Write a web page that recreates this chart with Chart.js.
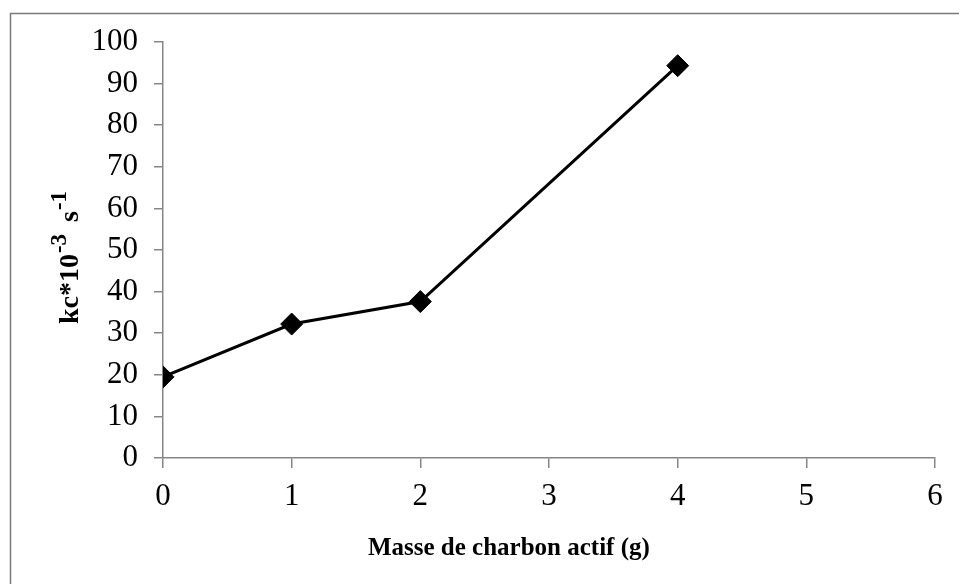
<!DOCTYPE html>
<html><head><meta charset="utf-8">
<script src="https://cdn.jsdelivr.net/npm/chart.js@4"></script>
<style>html,body{margin:0;padding:0;background:#fff}#wrap{width:959px;height:584px;position:relative}</style>
</head><body><div id="wrap"><canvas id="c" width="959" height="584"></canvas></div>
<script>
const masses = [0, 1, 2, 4];
const kcValues = [19.5, 32.2, 37.6, 94.3];
const xRange = [0, 6];
const yRange = [0, 100];
const xStep = 1;
const yStep = 10;
const xTitle = 'Masse de charbon actif (g)';
const yTitleParts = [['kc*10', false], ['-3', true], [' s', false], ['-1', true]];

const AXIS = '#868686';
const FONT = 'Liberation Serif, Times New Roman, serif';

const decor = {
  id: 'decor',
  afterDraw(chart) {
    const ctx = chart.ctx;
    const a = chart.chartArea;
    ctx.save();
    // outer frame
    ctx.strokeStyle = '#7a7a7a';
    ctx.lineWidth = 1.5;
    ctx.beginPath();
    ctx.moveTo(10.5, 584);
    ctx.lineTo(10.5, 13.5);
    ctx.lineTo(959, 13.5);
    ctx.stroke();
    // x title
    ctx.fillStyle = '#000';
    ctx.font = 'bold 25px ' + FONT;
    ctx.textAlign = 'center';
    ctx.textBaseline = 'alphabetic';
    ctx.fillText(xTitle, a.left + (a.right - a.left) * 0.448, 555);
    // y title rotated with superscripts
    const mainF = 'bold 28px ' + FONT;
    const supF = 'bold 23px ' + FONT;
    const gap = 6;
    let total = 0;
    const widths = yTitleParts.map(([t, sup]) => {
      ctx.font = sup ? supF : mainF;
      const w = ctx.measureText(t).width + (sup ? gap : 0);
      total += w;
      return w;
    });
    const cy = (a.top + a.bottom) / 2 + 5;
    ctx.translate(78, cy + total / 2);
    ctx.rotate(-Math.PI / 2);
    ctx.textAlign = 'left';
    let x = 0;
    yTitleParts.forEach(([t, sup], i) => {
      ctx.font = sup ? supF : mainF;
      ctx.fillText(t, x + (sup ? 1 : 0), sup ? -12 : 0);
      x += widths[i];
    });
    ctx.restore();
  }
};

new Chart(document.getElementById('c'), {
  type: 'line',
  data: {
    datasets: [{
      data: masses.map((m, i) => ({ x: m, y: kcValues[i] })),
      borderColor: '#000',
      backgroundColor: '#000',
      borderWidth: 3,
      pointStyle: 'rectRot',
      pointRadius: 11,
      pointBorderWidth: 1,
      pointBackgroundColor: '#000',
      pointBorderColor: '#000',
      tension: 0,
      fill: false
    }]
  },
  options: {
    responsive: false,
    animation: false,
    devicePixelRatio: 1,
    layout: { padding: { top: 42, right: 24, left: 0, bottom: 0 } },
    plugins: { legend: { display: false }, tooltip: { enabled: false }, title: { display: false } },
    scales: {
      x: {
        type: 'linear', min: xRange[0], max: xRange[1],
        ticks: { stepSize: xStep, color: '#000', font: { family: FONT, size: 31 }, padding: 10, maxRotation: 0 },
        grid: { drawOnChartArea: false, drawTicks: true, tickLength: 10, color: AXIS, lineWidth: 1.5 },
        border: { display: true, color: AXIS, width: 1.5 },
        afterFit(s) { s.height = 126; }
      },
      y: {
        type: 'linear', min: yRange[0], max: yRange[1],
        ticks: { stepSize: yStep, color: '#000', font: { family: FONT, size: 31 }, padding: 16 },
        grid: { drawOnChartArea: false, drawTicks: true, tickLength: 9, color: AXIS, lineWidth: 1.5 },
        border: { display: true, color: AXIS, width: 1.5 },
        afterFit(s) { s.width = 163; }
      }
    }
  },
  plugins: [decor]
});
</script>
</body></html>
